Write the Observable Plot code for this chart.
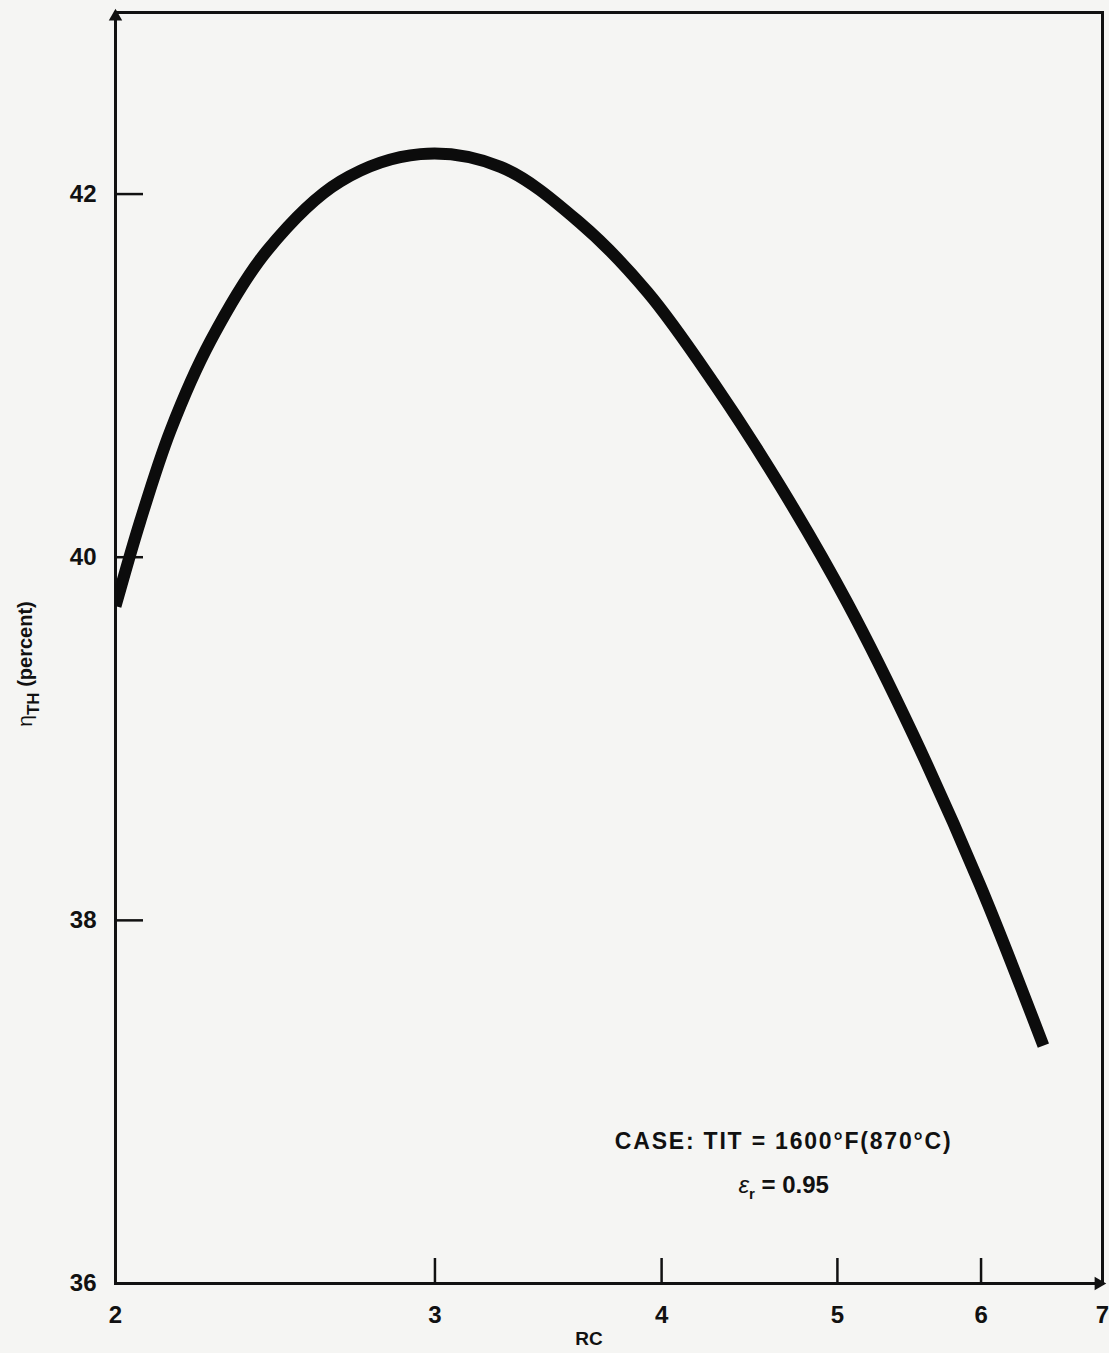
<!DOCTYPE html>
<html>
<head>
<meta charset="utf-8">
<script src="https://cdn.jsdelivr.net/npm/d3@7"></script>
<script src="https://cdn.jsdelivr.net/npm/@observablehq/plot@0.6"></script>
<style>
  html, body { margin: 0; padding: 0; background: #f5f5f3; }
  #chart svg { display: block; }
</style>
</head>
<body>
<div id="chart"></div>
<script>
// ---- data ----
const rc  = [2.0, 2.064, 2.145, 2.256, 2.425, 2.661, 2.945, 3.26, 3.608, 3.929, 4.273, 4.651, 5.063, 5.506, 5.995, 6.494];
const eta = [39.73, 40.20, 40.70, 41.19, 41.69, 42.07, 42.22, 42.15, 41.84, 41.46, 40.96, 40.39, 39.75, 39.02, 38.19, 37.31];
const xTicks = [2, 3, 4, 5, 6, 7];
const yTicks = [36, 38, 40, 42];
const xLabel = "RC";
const caseText = "CASE: TIT = 1600°F(870°C)";
const epsText = ["ε", "r", " = 0.95"];
const yLabelParts = ["η", "TH", " (percent)"];
const annotationX = 4.67;
const annotationY = [36.78, 36.54];

const curve = rc.map((x, i) => ({x, y: eta[i]}));
const ink = "#111";
const font = "Liberation Sans, Arial, Helvetica, sans-serif";

const W = 1109, H = 1353;
const mL = 115, mR = 7, mT = 12, mB = 70;
const frameW = W - mL - mR, frameH = H - mT - mB;

function withTspans(parts, subSize, shift, firstStyle) {
  return function (index, scales, values, dims, ctx, next) {
    const g = next(index, scales, values, dims, ctx);
    d3.select(g).selectAll("text").each(function () {
      const t = d3.select(this);
      t.text(null);
      const a = t.append("tspan").text(parts[0]);
      if (firstStyle) firstStyle(a);
      t.append("tspan").attr("dy", shift).attr("font-size", subSize).text(parts[1]);
      t.append("tspan").attr("dy", -shift).text(parts[2]);
    });
    return g;
  };
}

const plot = Plot.plot({
  width: W,
  height: H,
  marginLeft: mL,
  marginRight: mR,
  marginTop: mT,
  marginBottom: mB,
  x: {type: "log", domain: [2, 7]},
  y: {domain: [36, 43]},
  style: {background: "#f5f5f3", fontFamily: font, color: ink},
  marks: [
    Plot.frame({stroke: ink, strokeWidth: 3}),
    // inward tick marks
    Plot.ruleX(xTicks.slice(1, -1), {stroke: ink, strokeWidth: 2.5, insetTop: frameH - 25}),
    Plot.ruleY(yTicks.slice(1), {stroke: ink, strokeWidth: 2.5, insetRight: frameW - 28}),
    // arrow heads
    Plot.dot([{x: 2, y: 43}], {x: "x", y: "y", symbol: "triangle", r: 5, fill: ink, stroke: null, dy: 4}),
    Plot.dot([{x: 7, y: 36}], {x: "x", y: "y", symbol: "triangle", r: 5, fill: ink, stroke: null, rotate: 90, dx: -4}),
    // tick labels
    Plot.axisX(xTicks, {tickSize: 0, tickPadding: 22, fontSize: 24, fontWeight: "bold", label: null, tickFormat: d => String(d), fill: ink}),
    Plot.axisY(yTicks, {tickSize: 0, tickPadding: 19, fontSize: 24, fontWeight: "bold", label: null, tickFormat: d => String(d), fill: ink}),
    // curve
    Plot.line(curve, {x: "x", y: "y", curve: "catmull-rom", stroke: "#0c0c0c", strokeWidth: 12, strokeLinecap: "butt", clip: true}),
    // axis titles
    Plot.text([xLabel], {frameAnchor: "bottom", dx: -20, dy: 61, text: d => d, fontSize: 19, fontWeight: "bold", fill: ink}),
    Plot.text([yLabelParts], {
      frameAnchor: "left", textAnchor: "middle", dx: -90, dy: 16, rotate: -90, text: d => d.join(""), fontSize: 20, fontWeight: "bold", fill: ink,
      render: withTspans(yLabelParts, 17, 7, a => a.attr("font-weight", "normal").attr("font-size", 21))
    }),
    // annotation
    Plot.text([caseText], {x: () => annotationX, y: () => annotationY[0], text: d => d, fontSize: 23, fontWeight: "bold", fill: ink,
      render(index, scales, values, dims, ctx, next) {
        const g = next(index, scales, values, dims, ctx);
        d3.select(g).selectAll("text").attr("letter-spacing", 1.8);
        return g;
      }
    }),
    Plot.text([epsText], {
      x: () => annotationX, y: () => annotationY[1], text: d => d.join(""), fontSize: 24, fontWeight: "bold", fill: ink,
      render: withTspans(epsText, 15, 6, a => a.attr("font-weight", "normal").attr("font-style", "italic"))
    })
  ]
});

document.getElementById("chart").appendChild(plot);
</script>
</body>
</html>
